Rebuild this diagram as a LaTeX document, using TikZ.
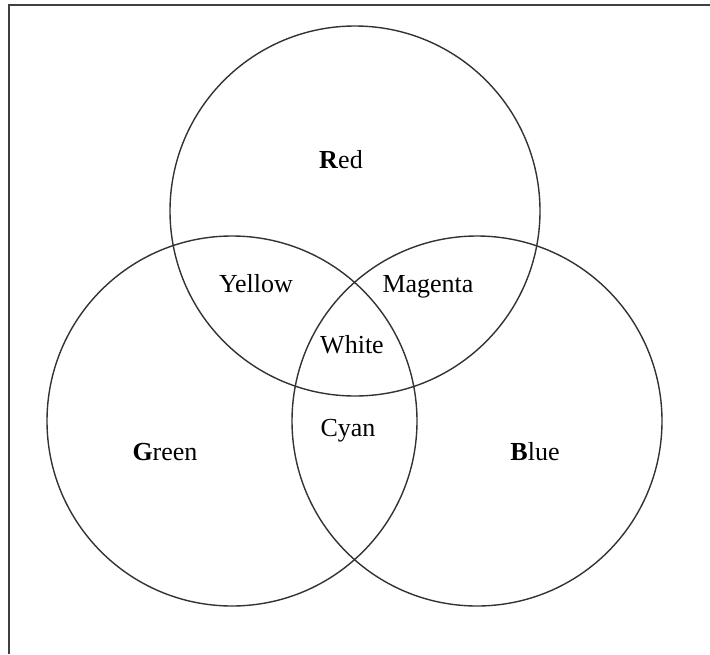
\documentclass[tikz,border=0pt]{standalone}
\usepackage{fontspec}
\setmainfont{Liberation Serif}
\usepackage{tikz}
\usepackage{xcolor}
\usetikzlibrary{calc}
\usetikzlibrary{positioning}

\begin{document}
\begin{tikzpicture}[x=1pt, y=-1pt]
\useasboundingbox (0,0) rectangle (710,654);
% Frame (top and left side)
\draw[line width=2pt, black!75] (8.5,654) -- (8.5,4.5) -- (710,4.5);

% Circles (node)
\node[draw, circle, line width=1.4pt, black!80, minimum size=370pt, inner sep=0pt] (redc) at (355,211) {};
\node[draw, circle, line width=1.4pt, black!80, minimum size=370pt, inner sep=0pt] (greenc) at (232,421) {};
\node[draw, circle, line width=1.4pt, black!80, minimum size=370pt, inner sep=0pt] (bluec) at (477,421) {};

% Colour names (node)
\begin{scope}[every node/.style={anchor=base, font=\fontsize{26}{30}\selectfont}]
\node (red) at (341,168) {\textbf{R}ed};
\node (green) at (165,460) {\textbf{G}reen};
\node (blue) at (535,460) {\textbf{B}lue};
\node (yellow) at (256,292) {Yellow};
\node (magenta) at (428,292) {Magenta};
\node (white) at (352,353) {White};
\node (cyan) at (348,436) {Cyan};
\end{scope}
\end{tikzpicture}
\end{document}
